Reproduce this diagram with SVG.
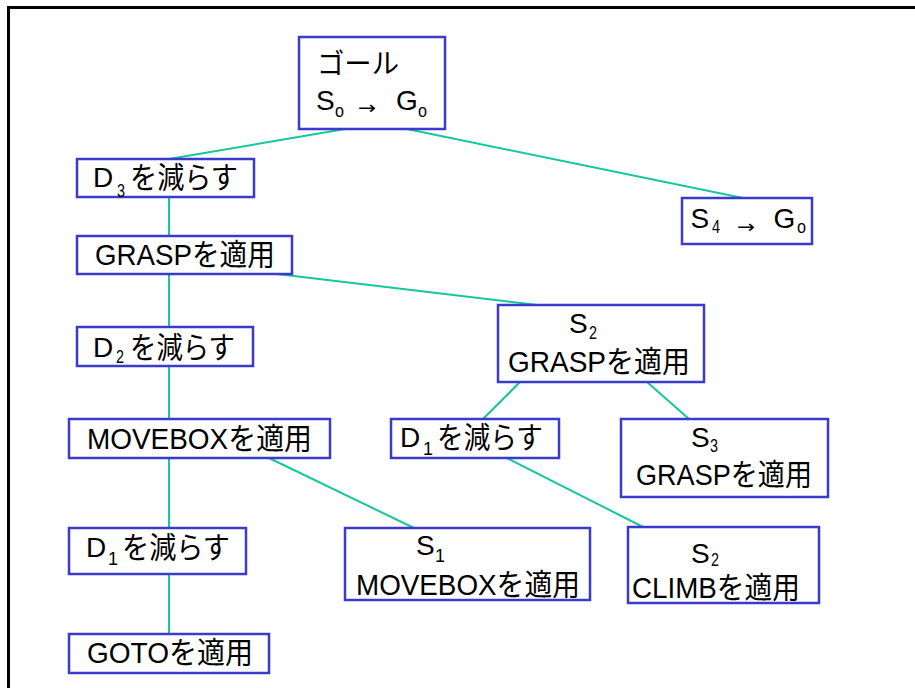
<svg xmlns="http://www.w3.org/2000/svg" width="915" height="688" viewBox="0 0 915 688">
<style>
.t{font-family:"Liberation Sans","Noto Sans CJK JP",sans-serif;font-size:28px;fill:#000}
.m{font-size:30px}
.s{font-size:18px}
.a{font-family:"DejaVu Sans","Liberation Sans",sans-serif;font-size:18px}
.b{fill:#fff;stroke:#3a3acc;stroke-width:2.5}
.c{stroke:#14c89c;stroke-width:2;fill:none}
</style>
<rect width="915" height="688" fill="#fff"/>
<path d="M8.5,688 V7.5 H915" fill="none" stroke="#000" stroke-width="3"/>
<g id="connectors" class="c">
<path d="M345,129 L169,159"/>
<path d="M407,129 L743,198"/>
<path d="M169,197 V236"/>
<path d="M169,274 V327"/>
<path d="M277,274 L537,305"/>
<path d="M169,366 V419"/>
<path d="M520,382 L483,419"/>
<path d="M647,382 L689,419"/>
<path d="M507,458 L643,527"/>
<path d="M169,458 V528"/>
<path d="M269,458 L414,528"/>
<path d="M169,574 V634"/>
</g>
<g id="goal">
<rect class="b" x="299" y="37" width="146" height="92"/>
<text class="t" x="317" y="74" font-size="31" textLength="82" lengthAdjust="spacingAndGlyphs">ゴール</text>
<text class="t" x="316" y="110">S</text>
<text class="t s" x="335" y="117" font-size="20" textLength="9" lengthAdjust="spacingAndGlyphs">o</text>
<text class="t a" x="358" y="114" textLength="18" lengthAdjust="spacingAndGlyphs">→</text>
<text class="t" x="396" y="110">G</text>
<text class="t s" x="418" y="117" textLength="9" lengthAdjust="spacingAndGlyphs">o</text>
</g>
<g id="reduceD3">
<rect class="b" x="77" y="159" width="177" height="38"/>
<text class="t" x="93" y="187">D</text>
<text class="t s" x="117" y="197" textLength="8" lengthAdjust="spacingAndGlyphs">3</text>
<text class="t m" x="130" y="188" textLength="108" lengthAdjust="spacingAndGlyphs">を減らす</text>
</g>
<g id="s4go">
<rect class="b" x="682" y="198" width="130" height="46"/>
<text class="t" x="690.5" y="228" font-size="31">S</text>
<text class="t s" x="712" y="233" font-size="16" textLength="8" lengthAdjust="spacingAndGlyphs">4</text>
<text class="t a" x="737" y="233" textLength="18" lengthAdjust="spacingAndGlyphs">→</text>
<text class="t" x="773.5" y="228" font-size="31">G</text>
<text class="t s" x="797" y="233" textLength="9" lengthAdjust="spacingAndGlyphs">o</text>
</g>
<g id="applyGrasp">
<rect class="b" x="77" y="236" width="215" height="38"/>
<text class="t m" x="95" y="265" textLength="180" lengthAdjust="spacingAndGlyphs">GRASPを適用</text>
</g>
<g id="reduceD2">
<rect class="b" x="77" y="327" width="176" height="39"/>
<text class="t" x="93" y="357">D</text>
<text class="t s" x="116" y="363" textLength="8" lengthAdjust="spacingAndGlyphs">2</text>
<text class="t m" x="130" y="358" textLength="105" lengthAdjust="spacingAndGlyphs">を減らす</text>
</g>
<g id="s2grasp">
<rect class="b" x="498" y="305" width="206" height="77"/>
<text class="t" x="569" y="333">S</text>
<text class="t s" x="589" y="339" textLength="8" lengthAdjust="spacingAndGlyphs">2</text>
<text class="t m" x="508" y="372" textLength="182" lengthAdjust="spacingAndGlyphs">GRASPを適用</text>
</g>
<g id="applyMovebox">
<rect class="b" x="69" y="419" width="261" height="39"/>
<text class="t m" x="87" y="449" textLength="225" lengthAdjust="spacingAndGlyphs">MOVEBOXを適用</text>
</g>
<g id="reduceD1mid">
<rect class="b" x="391" y="419" width="168" height="39"/>
<text class="t" x="400" y="447">D</text>
<text class="t s" x="423" y="455">1</text>
<text class="t m" x="437" y="448" textLength="106" lengthAdjust="spacingAndGlyphs">を減らす</text>
</g>
<g id="s3grasp">
<rect class="b" x="621" y="419" width="207" height="78"/>
<text class="t" x="691" y="447">S</text>
<text class="t s" x="710" y="452" textLength="8" lengthAdjust="spacingAndGlyphs">3</text>
<text class="t m" x="636" y="485" textLength="176" lengthAdjust="spacingAndGlyphs">GRASPを適用</text>
</g>
<g id="reduceD1left">
<rect class="b" x="69" y="528" width="177" height="46"/>
<text class="t" x="86" y="557">D</text>
<text class="t s" x="108" y="565">1</text>
<text class="t m" x="122" y="558" textLength="108" lengthAdjust="spacingAndGlyphs">を減らす</text>
</g>
<g id="s1movebox">
<rect class="b" x="345" y="528" width="245" height="72"/>
<text class="t" x="416" y="555">S</text>
<text class="t s" x="435" y="562">1</text>
<text class="t m" x="356" y="595" textLength="224" lengthAdjust="spacingAndGlyphs">MOVEBOXを適用</text>
</g>
<g id="s2climb">
<rect class="b" x="628" y="527" width="191" height="76"/>
<text class="t" x="691" y="563">S</text>
<text class="t s" x="711" y="566" textLength="8" lengthAdjust="spacingAndGlyphs">2</text>
<text class="t m" x="632" y="598" textLength="168" lengthAdjust="spacingAndGlyphs">CLIMBを適用</text>
</g>
<g id="applyGoto">
<rect class="b" x="69" y="634" width="200" height="39"/>
<text class="t m" x="87" y="663" textLength="166" lengthAdjust="spacingAndGlyphs">GOTOを適用</text>
</g>
</svg>
